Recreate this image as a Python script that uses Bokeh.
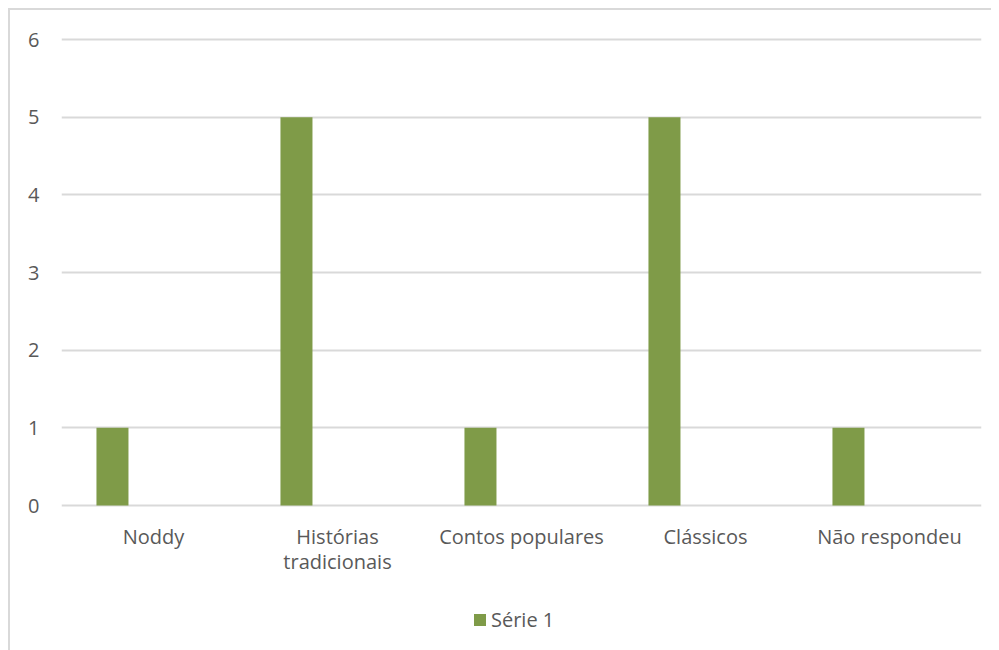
from bokeh.plotting import figure
from bokeh.models import ColumnDataSource, Legend, LegendItem, FixedTicker, Range1d
from bokeh.core.properties import value
from bokeh.transform import dodge
from bokeh.embed import file_html
from bokeh.resources import INLINE

categories = ["Noddy", "Histórias tradicionais", "Contos populares", "Clássicos", "Não respondeu"]
category_labels = ["Noddy", "Histórias\ntradicionais", "Contos populares", "Clássicos", "Não respondeu"]
serie1 = [1, 5, 1, 5, 1]
series_name = "Série 1"
y_ticks = [0, 1, 2, 3, 4, 5, 6]

FONT = "Open Sans"
TXT = "#595959"
GREEN = "#7f9b48"
GRID = "#d9d9d9"

# layout (pixels)
PLOT_H = 466          # height of the 0..6 value area
PPU = PLOT_H / 6.0    # pixels per unit
BELOW = 145           # room under the zero line for labels and legend
ABOVE = 2             # room above the top gridline

centers = [i + 0.5 for i in range(len(categories))]
src = ColumnDataSource(dict(x=centers, v=serie1, base=[0] * len(categories),
                            lab=category_labels, cat=categories))

p = figure(frame_width=920, frame_height=PLOT_H + BELOW + ABOVE,
           x_range=Range1d(0, len(categories)),
           y_range=Range1d(-BELOW / PPU, y_ticks[-1] + ABOVE / PPU),
           x_axis_location=None,
           output_backend="svg", toolbar_location=None,
           min_border_left=51, min_border_right=10, min_border_top=27, min_border_bottom=0)
p.styles = {"border-top": "2px solid #d9d9d9", "border-left": "2px solid #d9d9d9",
            "margin-left": "8px", "margin-top": "8px"}
p.outline_line_color = None
p.background_fill_color = "white"
p.border_fill_color = "white"

r = p.vbar(x=dodge("x", -0.223), top="v", bottom="base", width=0.174, source=src,
           fill_color=GREEN, line_color=None)

# category labels under the zero line
p.text(x="x", y="base", text="lab", source=src, y_offset=17,
       text_align="center", text_baseline="top", text_line_height=0.94,
       text_font=value(FONT), text_font_size=value("20px"), text_color=TXT)

for g in p.xgrid:
    g.visible = False
p.ygrid.grid_line_color = GRID
p.ygrid.grid_line_width = 2
p.ygrid.ticker = FixedTicker(ticks=y_ticks)

ax = p.yaxis[0]
ax.ticker = FixedTicker(ticks=y_ticks)
ax.axis_line_color = None
ax.major_tick_line_color = None
ax.minor_tick_line_color = None
ax.major_tick_out = 0
ax.major_tick_in = 0
ax.major_label_text_font = FONT
ax.major_label_text_font_size = "20px"
ax.major_label_text_color = TXT
ax.major_label_standoff = 22

legend = Legend(items=[LegendItem(label=series_name, renderers=[r])],
                orientation="horizontal", location=(411, 17),
                label_text_font=FONT, label_text_font_size="20px", label_text_color=TXT,
                glyph_width=15, glyph_height=15, label_standoff=4,
                border_line_color=None, background_fill_alpha=0,
                padding=0, margin=0, spacing=0)
p.add_layout(legend, "center")

open("out.html", "w").write(file_html(p, INLINE))
